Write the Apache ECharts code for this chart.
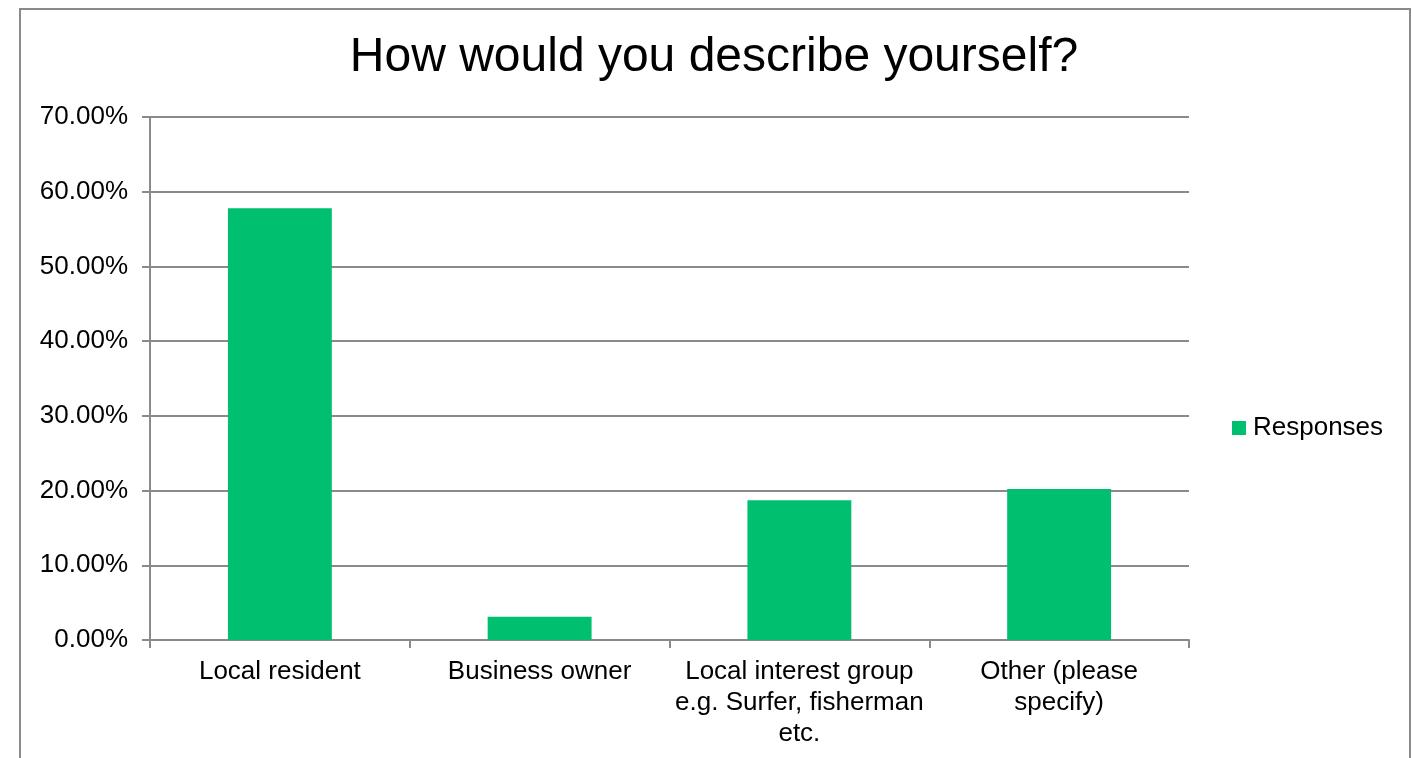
<!DOCTYPE html>
<html>
<head>
<meta charset="utf-8">
<script src="https://cdn.jsdelivr.net/npm/echarts@6/dist/echarts.min.js"></script>
<style>
html,body{margin:0;padding:0;background:#fff;}
#chart{width:1412px;height:758px;}
</style>
</head>
<body>
<div id="chart"></div>
<script>
const titleText = 'How would you describe yourself?';
const categories = [
  'Local resident',
  'Business owner',
  'Local interest group\ne.g. Surfer, fisherman\netc.',
  'Other (please\nspecify)'
];
const seriesName = 'Responses';
const responses = [57.8, 3.1, 18.7, 20.2];
const yTicks = { min: 0, max: 70, interval: 10 };

const FONT = 'Liberation Sans, Arial, sans-serif';
const GRAY = '#8a8a8a';
const GREEN = '#00BF6F';

const chart = echarts.init(document.getElementById('chart'));
chart.setOption({
  animation: false,
  backgroundColor: '#fff',
  title: {
    text: titleText,
    left: 714,
    top: 34,
    padding: 0,
    textAlign: 'center',
    textStyle: { fontFamily: FONT, fontSize: 48, fontWeight: 'normal', color: '#000' }
  },
  legend: {
    data: [seriesName],
    left: 1232,
    top: 415,
    padding: 0,
    itemWidth: 14,
    itemHeight: 14,
    itemGap: 10,
    icon: 'rect',
    textStyle: { fontFamily: FONT, fontSize: 26, color: '#000', padding: [0, 0, 0, 2] }
  },
  grid: { left: 150, right: 223, top: 117, bottom: 118, containLabel: false },
  xAxis: {
    type: 'category',
    data: categories,
    axisLine: { show: true, lineStyle: { color: GRAY, width: 2 } },
    axisTick: { show: true, length: 8, lineStyle: { color: GRAY, width: 2 } },
    axisLabel: {
      interval: 0,
      margin: 16,
      fontFamily: FONT,
      fontSize: 26,
      lineHeight: 31,
      color: '#000',
      align: 'center'
    },
    splitLine: { show: false }
  },
  yAxis: {
    type: 'value',
    min: yTicks.min,
    max: yTicks.max,
    interval: yTicks.interval,
    axisLine: { show: true, lineStyle: { color: GRAY, width: 2 } },
    axisTick: { show: true, length: 8, lineStyle: { color: GRAY, width: 2 } },
    axisLabel: {
      margin: 22,
      fontFamily: FONT,
      fontSize: 26,
      color: '#000',
      formatter: v => v.toFixed(2) + '%'
    },
    splitLine: { show: true, lineStyle: { color: GRAY, width: 2 } }
  },
  series: [{
    name: seriesName,
    type: 'bar',
    data: responses,
    barWidth: '40%',
    itemStyle: { color: GREEN }
  }],
  graphic: [{
    type: 'rect',
    shape: { x: 20, y: 9, width: 1390, height: 800 },
    style: { fill: null, stroke: '#8a8a8a', lineWidth: 2 },
    silent: true,
    z: 100
  }]
});
</script>
</body>
</html>
